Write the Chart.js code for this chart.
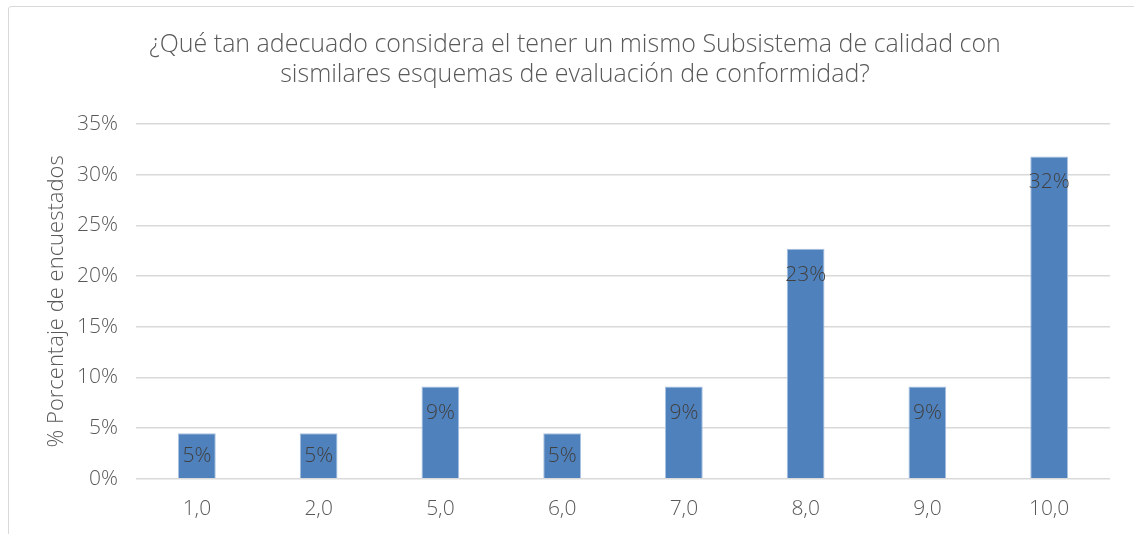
<!DOCTYPE html>
<html>
<head>
<meta charset="utf-8">
<script src="https://cdn.jsdelivr.net/npm/chart.js@4.4.0/dist/chart.umd.min.js"></script>
<style>
  html, body { margin: 0; padding: 0; background: #fff; }
  #wrap {
    position: absolute; left: 8px; top: 6px; width: 1140px; height: 540px;
    border: 1.5px solid #d9d9d9; border-radius: 3px; box-sizing: border-box;
  }
  #chart { position: absolute; left: 0; top: 0; }
</style>
</head>
<body>
<div id="wrap"></div>
<canvas id="chart" width="1134" height="534"></canvas>
<script>
const categories = ["1,0", "2,0", "5,0", "6,0", "7,0", "8,0", "9,0", "10,0"];
const percentages = [4.5, 4.5, 9.1, 4.5, 9.1, 22.7, 9.1, 31.8];
const titleLines = [
  "¿Qué tan adecuado considera el tener un mismo Subsistema de calidad con",
  "sismilares esquemas de evaluación de conformidad?"
];

const FONT = "'Open Sans', 'Noto Sans', sans-serif";

// value labels just below the top of each bar (centred when the bar is short)
const barLabels = {
  id: "barLabels",
  afterDatasetsDraw(chart) {
    const ctx = chart.ctx;
    const meta = chart.getDatasetMeta(0);
    ctx.save();
    ctx.font = "300 21px " + FONT;
    ctx.fillStyle = "#404040";
    ctx.textAlign = "center";
    ctx.textBaseline = "middle";
    meta.data.forEach((bar, i) => {
      const y = Math.min(bar.y + 26, (bar.y + bar.base) / 2);
      ctx.fillText(Math.round(percentages[i]) + "%", bar.x, y);
    });
    ctx.restore();
  }
};

new Chart(document.getElementById("chart"), {
  type: "bar",
  data: {
    labels: categories,
    datasets: [{
      data: percentages,
      backgroundColor: "#4f81bd",
      borderColor: "#a9c1e0",
      borderWidth: 1,
      barPercentage: 0.31,
      categoryPercentage: 1
    }]
  },
  options: {
    responsive: false,
    animation: false,
    layout: { padding: { left: 40, right: 24, top: 12, bottom: 2 } },
    plugins: {
      legend: { display: false },
      tooltip: { enabled: false },
      title: {
        display: true,
        text: titleLines,
        color: "#595959",
        font: { family: FONT, size: 25, weight: 300, lineHeight: 1.2 },
        padding: { top: 18, bottom: 34 }
      }
    },
    scales: {
      x: {
        grid: { display: false },
        border: { display: false },
        ticks: { color: "#595959", font: { family: FONT, size: 21, weight: 300 }, padding: 10 }
      },
      y: {
        min: 0,
        max: 35,
        afterFit: scale => { scale.width = 96; },
        ticks: {
          stepSize: 5,
          color: "#595959",
          font: { family: FONT, size: 21, weight: 300 },
          padding: 18,
          callback: v => v + "%"
        },
        grid: { color: "#d9d9d9", lineWidth: 1.5, drawTicks: false },
        border: { display: false },
        title: {
          display: true,
          text: "% Porcentaje de encuestados",
          color: "#595959",
          font: { family: FONT, size: 22, weight: 300 },
          padding: { bottom: 10 }
        }
      }
    }
  },
  plugins: [barLabels]
});
</script>
</body>
</html>
